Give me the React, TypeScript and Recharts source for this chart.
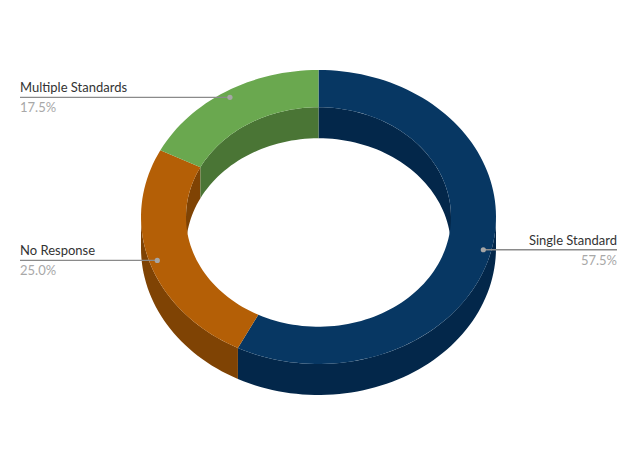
import React from 'react';
import { PieChart, Pie, Cell } from 'recharts';

const categories = ['Single Standard', 'No Response', 'Multiple Standards'];
const shares = [57.5, 25.0, 17.5];
const topColors = ['#073763', '#b45f06', '#6aa84f'];
const wallColors = ['#03274a', '#7f4304', '#4a7535'];

const data = categories.map((name, i) => ({ name, value: shares[i], wall: wallColors[i] }));

// the pie is circular, so the shapes squash it to the tilted ellipse
const SQUASH = 147 / 177.5;
const DEPTH = 31;
const RAD = Math.PI / 180;

const pt = (cx: number, cy: number, r: number, deg: number, dy = 0) =>
  `${(cx + r * Math.cos(deg * RAD)).toFixed(2)} ${(cy - r * SQUASH * Math.sin(deg * RAD) + dy).toFixed(2)}`;

// walk along an arc in small steps
const arcPts = (cx: number, cy: number, r: number, from: number, to: number, dy = 0) => {
  const steps = Math.max(2, Math.ceil(Math.abs(to - from) / 2));
  const out: string[] = [];
  for (let i = 0; i <= steps; i++) {
    out.push(pt(cx, cy, r, from + ((to - from) * i) / steps, dy));
  }
  return out;
};

const band = (a: string[], b: string[]) => `M${a.join('L')}L${b.reverse().join('L')}Z`;

const Slice3D = (props: any) => {
  const { cx, cy, innerRadius, outerRadius, startAngle, endAngle, fill, payload } = props;
  const hi = Math.max(startAngle, endAngle);
  const lo = Math.min(startAngle, endAngle);
  const walls: React.ReactNode[] = [];

  // outer side wall: only the part facing us (angles -180..0, also -540..-360)
  [[-180, 0], [-540, -360]].forEach(([a, b], i) => {
    const from = Math.max(lo, a);
    const to = Math.min(hi, b);
    if (to > from) {
      walls.push(
        <path
          key={`o${i}`}
          d={band(arcPts(cx, cy, outerRadius, from, to), arcPts(cx, cy, outerRadius, from, to, DEPTH))}
          fill={payload.wall}
        />
      );
    }
  });

  // inner wall: the far side of the hole (angles 0..180, also -360..-180)
  [[0, 180], [-360, -180]].forEach(([a, b], i) => {
    const from = Math.max(lo, a);
    const to = Math.min(hi, b);
    if (to > from) {
      walls.push(
        <path
          key={`i${i}`}
          d={band(arcPts(cx, cy, innerRadius, from, to), arcPts(cx, cy, innerRadius, from, to, DEPTH))}
          fill={payload.wall}
        />
      );
    }
  });

  return (
    <g>
      {walls}
      <path
        d={band(arcPts(cx, cy, outerRadius, lo, hi), arcPts(cx, cy, innerRadius, lo, hi))}
        fill={fill}
      />
    </g>
  );
};

const FONT = 'Lato, "Open Sans", sans-serif';

const SliceLabel = (props: any) => {
  const { cx, cy, outerRadius, midAngle, name, value } = props;
  const r = outerRadius * 0.955;
  const x = cx + r * Math.cos(midAngle * RAD);
  const y = cy - r * SQUASH * Math.sin(midAngle * RAD);
  const right = x > cx;
  const end = right ? 617 : 20;
  return (
    <g>
      <line x1={x} y1={y} x2={end} y2={y} stroke="#8a8a8a" strokeWidth={1.3} />
      <circle cx={x} cy={y} r={2.6} fill="#a6a6a6" />
      <text
        x={end}
        y={y - 5}
        textAnchor={right ? 'end' : 'start'}
        fontFamily={FONT}
        fontSize={13}
        fill="#333333"
      >
        {name}
      </text>
      <text
        x={end}
        y={y + 15}
        textAnchor={right ? 'end' : 'start'}
        fontFamily={FONT}
        fontSize={13}
        fill="#a8a8a8"
      >
        {`${value.toFixed(1)}%`}
      </text>
    </g>
  );
};

export default function App() {
  return (
    <div style={{ position: 'absolute', left: 0, top: 0, width: 637, height: 466, background: '#ffffff' }}>
      <PieChart width={637} height={466} margin={{ top: 0, right: 0, bottom: 0, left: 0 }}>
        <Pie
          data={data}
          dataKey="value"
          nameKey="name"
          cx={318.5}
          cy={217}
          innerRadius={132.5}
          outerRadius={177.5}
          startAngle={90}
          endAngle={-270}
          stroke="none"
          shape={Slice3D}
          label={SliceLabel}
          labelLine={false}
          isAnimationActive={false}
        >
          {data.map((d, i) => (
            <Cell key={d.name} fill={topColors[i]} />
          ))}
        </Pie>
      </PieChart>
    </div>
  );
}
